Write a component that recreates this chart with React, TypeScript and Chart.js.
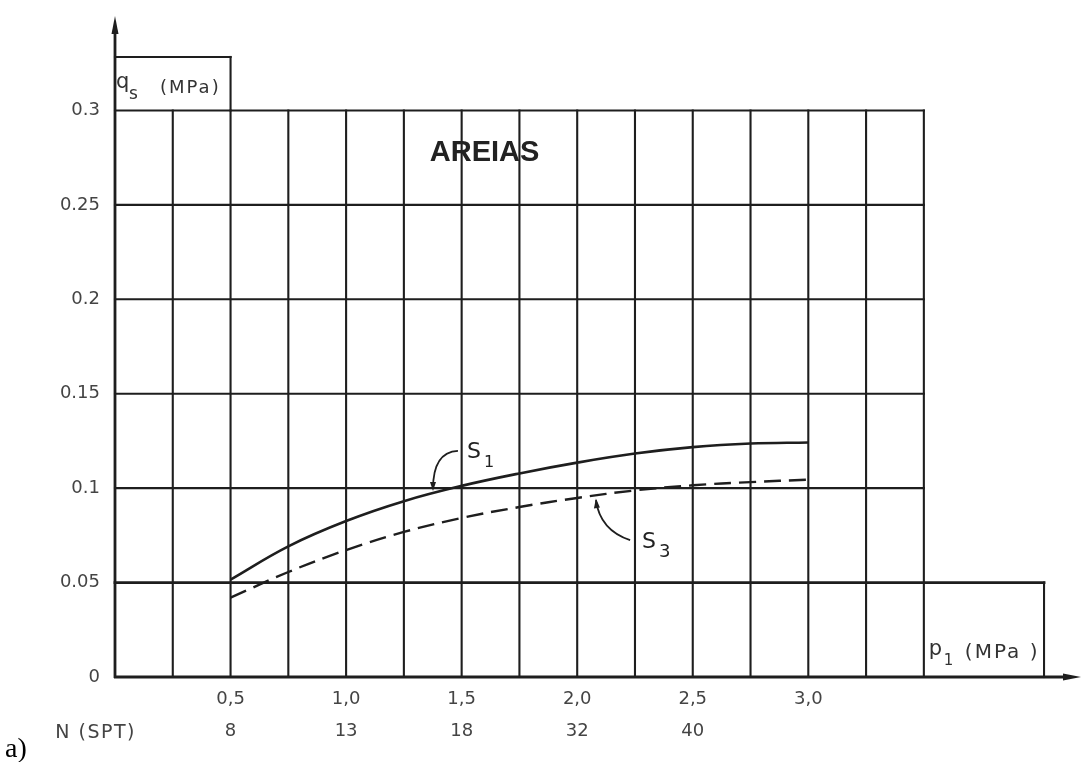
import React, { useEffect, useRef } from 'react';
import { Chart, registerables } from 'chart.js';

Chart.register(...registerables);

// ---- data ----
const pressureTicks = [0.5, 1.0, 1.5, 2.0, 2.5, 3.0];
const pressureTickLabels = ['0,5', '1,0', '1,5', '2,0', '2,5', '3,0'];
const sptTickLabels = ['8', '13', '18', '32', '40', ''];
const qsTicks = [0, 0.05, 0.1, 0.15, 0.2, 0.25, 0.3];
const qsTickLabels = ['0', '0.05', '0.1', '0.15', '0.2', '0.25', '0.3'];

const gridX = [0.25, 0.5, 0.75, 1.0, 1.25, 1.5, 1.75, 2.0, 2.25, 2.5, 2.75, 3.0, 3.25, 3.5];
const gridY = [0.05, 0.1, 0.15, 0.2, 0.25, 0.3];

const s1P = [0.5, 0.75, 1.0, 1.25, 1.5, 1.75, 2.0, 2.25, 2.5, 2.75, 3.0];
const s1Q = [0.0516, 0.0692, 0.0826, 0.0931, 0.1012, 0.1078, 0.1135, 0.1183, 0.1217, 0.1236, 0.1242];
const s3P = [0.5, 0.75, 1.0, 1.25, 1.5, 1.75, 2.0, 2.25, 2.5, 2.75, 3.0];
const s3Q = [0.042, 0.0556, 0.0672, 0.0768, 0.0842, 0.09, 0.0948, 0.0988, 0.1015, 0.1032, 0.1045];

// frame extents (data units)
const X_MAX = 4.18;
const Y_MAX = 0.35;
const GRID_TOP = 0.3;
const GRID_RIGHT = 3.5;
const P_BOX_RIGHT = 4.02;
const QS_BOX_TOP = 0.3283;
const QS_BOX_RIGHT = 0.5;

const INK = '#1e1e1e';
const TEXT = '#444';

const framePlugin = {
  id: 'frame',
  beforeDatasetsDraw(chart: any) {
    const { ctx, scales } = chart;
    const px = (v: number) => scales.x.getPixelForValue(v);
    const py = (v: number) => scales.y.getPixelForValue(v);
    const line = (x1: number, y1: number, x2: number, y2: number) => {
      ctx.beginPath();
      ctx.moveTo(x1, y1);
      ctx.lineTo(x2, y2);
      ctx.stroke();
    };
    ctx.save();
    ctx.strokeStyle = INK;
    ctx.lineWidth = 2.1;
    ctx.lineCap = 'square';
    gridX.forEach((v) => line(px(v), py(0), px(v), py(GRID_TOP)));
    gridY.forEach((v) => {
      const right = v === 0.05 ? P_BOX_RIGHT : GRID_RIGHT;
      ctx.lineWidth = v === 0.05 ? 2.8 : 2.1;
      line(px(0), py(v), px(right), py(v));
    });
    ctx.lineWidth = 2.1;
    line(px(P_BOX_RIGHT), py(0.05), px(P_BOX_RIGHT), py(0));
    line(px(0), py(QS_BOX_TOP), px(QS_BOX_RIGHT), py(QS_BOX_TOP));
    line(px(QS_BOX_RIGHT), py(QS_BOX_TOP), px(QS_BOX_RIGHT), py(GRID_TOP));
    // axes
    ctx.lineWidth = 2.8;
    ctx.lineCap = 'butt';
    const x0 = px(0);
    const y0 = py(0);
    const xEnd = px(X_MAX);
    const yEnd = py(Y_MAX);
    line(x0, y0 + 1, x0, yEnd + 14);
    line(x0 - 1, y0, xEnd - 14, y0);
    ctx.fillStyle = INK;
    ctx.beginPath();
    ctx.moveTo(x0, yEnd);
    ctx.lineTo(x0 - 3.5, yEnd + 18);
    ctx.lineTo(x0 + 3.5, yEnd + 18);
    ctx.closePath();
    ctx.fill();
    ctx.beginPath();
    ctx.moveTo(xEnd, y0);
    ctx.lineTo(xEnd - 18, y0 - 3.5);
    ctx.lineTo(xEnd - 18, y0 + 3.5);
    ctx.closePath();
    ctx.fill();
    ctx.restore();
  },
  afterDatasetsDraw(chart: any) {
    const { ctx, scales } = chart;
    const px = (v: number) => scales.x.getPixelForValue(v);
    const py = (v: number) => scales.y.getPixelForValue(v);
    ctx.save();

    // AREIAS
    ctx.fillStyle = '#222';
    ctx.font = 'bold 29px "Liberation Sans"';
    ctx.textAlign = 'center';
    ctx.textBaseline = 'middle';
    ctx.fillText('AREIAS', px(1.599), py(0.2775));

    ctx.textAlign = 'left';
    ctx.textBaseline = 'alphabetic';
    ctx.fillStyle = '#333';
    // q_s (MPa)
    const qx = px(0);
    const qTop = py(QS_BOX_TOP);
    ctx.font = '21px "DejaVu Sans"';
    ctx.fillText('q', qx + 1, qTop + 31);
    ctx.font = '17px "DejaVu Sans"';
    ctx.fillText('s', qx + 14, qTop + 42);
    ctx.font = '18px "DejaVu Sans"';
    (ctx as any).letterSpacing = '2px';
    ctx.fillText('(MPa)', qx + 45, qTop + 36);
    (ctx as any).letterSpacing = '0px';

    // p_1 (MPa)
    const pxl = px(GRID_RIGHT);
    const yAx = py(0);
    ctx.font = '21px "DejaVu Sans"';
    ctx.fillText('p', pxl + 5, yAx - 22);
    ctx.font = '15px "DejaVu Sans"';
    ctx.fillText('1', pxl + 20, yAx - 12);
    ctx.font = '20px "DejaVu Sans"';
    (ctx as any).letterSpacing = '2px';
    ctx.fillText('(MPa )', pxl + 41, yAx - 19);
    (ctx as any).letterSpacing = '0px';

    // S1, S3 labels
    ctx.fillStyle = '#222';
    ctx.font = '22px "DejaVu Sans"';
    ctx.fillText('S', px(1.523), py(0.116));
    ctx.fillText('S', px(2.28), py(0.0683));
    ctx.font = '16px "DejaVu Sans"';
    ctx.fillText('1', px(1.523) + 17, py(0.116) + 9);
    ctx.font = '18px "DejaVu Sans"';
    ctx.fillText('3', px(2.28) + 17, py(0.0683) + 9);

    // leaders
    ctx.strokeStyle = INK;
    ctx.lineWidth = 1.8;
    ctx.beginPath();
    ctx.moveTo(px(1.484), py(0.1197));
    ctx.quadraticCurveTo(px(1.376), py(0.1191), px(1.376), py(0.0995));
    ctx.stroke();
    ctx.beginPath();
    ctx.moveTo(px(2.081), py(0.0937));
    ctx.quadraticCurveTo(px(2.099), py(0.0778), px(2.229), py(0.0725));
    ctx.stroke();
    ctx.fillStyle = INK;
    ctx.beginPath();
    ctx.moveTo(px(1.376), py(0.0985));
    ctx.lineTo(px(1.376) - 3, py(0.0985) - 9);
    ctx.lineTo(px(1.376) + 3, py(0.0985) - 9);
    ctx.closePath();
    ctx.fill();
    ctx.beginPath();
    ctx.moveTo(px(2.081), py(0.0945));
    ctx.lineTo(px(2.081) - 2, py(0.0945) + 10);
    ctx.lineTo(px(2.081) + 4, py(0.0945) + 9);
    ctx.closePath();
    ctx.fill();

    // N (SPT)
    ctx.fillStyle = TEXT;
    ctx.font = '19px "DejaVu Sans"';
    (ctx as any).letterSpacing = '1.5px';
    ctx.textAlign = 'right';
    ctx.textBaseline = 'middle';
    ctx.fillText('N (SPT)', px(0) + 21, py(0) + 56);
    (ctx as any).letterSpacing = '0px';

    // a)
    ctx.fillStyle = '#000';
    ctx.font = '28px "Liberation Serif"';
    ctx.textAlign = 'left';
    ctx.textBaseline = 'alphabetic';
    ctx.fillText('a)', 5, 757);
    ctx.restore();
  },
};

export default function App() {
  const ref = useRef<HTMLCanvasElement>(null);
  useEffect(() => {
    const canvas = ref.current;
    if (!canvas) return;
    const chart = new Chart(canvas, {
      type: 'line',
      data: {
        datasets: [
          {
            label: 'S1',
            data: s1P.map((p, i) => ({ x: p, y: s1Q[i] })),
            borderColor: INK,
            borderWidth: 2.6,
            pointRadius: 0,
            tension: 0.4,
            fill: false,
          },
          {
            label: 'S3',
            data: s3P.map((p, i) => ({ x: p, y: s3Q[i] })),
            borderColor: INK,
            borderWidth: 2.4,
            borderDash: [17, 8],
            pointRadius: 0,
            tension: 0.4,
            fill: false,
          },
        ],
      },
      options: {
        animation: false,
        responsive: false,
        devicePixelRatio: 1,
        layout: { padding: { top: 16, right: 1, left: 0, bottom: 0 } },
        plugins: { legend: { display: false }, tooltip: { enabled: false } },
        scales: {
          x: {
            type: 'linear',
            min: 0,
            max: X_MAX,
            grid: { display: false, drawTicks: false },
            border: { display: false },
            afterBuildTicks: (s: any) => {
              s.ticks = pressureTicks.map((v) => ({ value: v }));
            },
            afterFit: (s: any) => {
              s.height = 85;
              s.paddingLeft = 0;
              s.paddingRight = 0;
            },
            ticks: {
              autoSkip: false,
              maxRotation: 0,
              padding: 6,
              color: TEXT,
              font: { family: 'DejaVu Sans', size: 18, lineHeight: 32 / 18 },
              callback: (_v: any, i: number) => [pressureTickLabels[i], sptTickLabels[i]],
            },
          },
          y: {
            type: 'linear',
            min: 0,
            max: Y_MAX,
            grid: { display: false, drawTicks: false },
            border: { display: false },
            afterBuildTicks: (s: any) => {
              s.ticks = qsTicks.map((v) => ({ value: v }));
            },
            afterFit: (s: any) => {
              s.width = 115;
              s.paddingTop = 0;
              s.paddingBottom = 0;
            },
            ticks: {
              autoSkip: false,
              padding: 15,
              color: TEXT,
              font: { family: 'DejaVu Sans', size: 18 },
              callback: (_v: any, i: number) => qsTickLabels[i],
            },
          },
        },
      },
      plugins: [framePlugin],
    } as any);
    return () => chart.destroy();
  }, []);
  return (
    <div style={{ position: 'fixed', left: 0, top: 0, width: 1082, height: 762, background: '#fff' }}>
      <canvas ref={ref} width={1082} height={762} style={{ display: 'block', width: 1082, height: 762 }} />
    </div>
  );
}
